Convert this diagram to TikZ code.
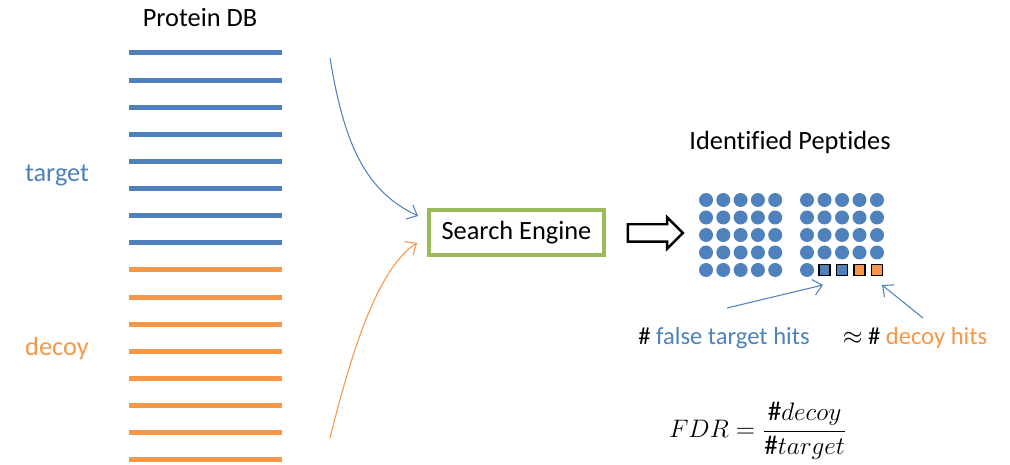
\documentclass[tikz,border=0pt]{standalone}
\usepackage{fontspec}
\setmainfont{Carlito}[Ligatures={NoCommon}]
\usetikzlibrary{shapes.arrows,arrows.meta}
\definecolor{tblue}{HTML}{4F81BD}
\definecolor{dorange}{HTML}{F79646}
\definecolor{egreen}{HTML}{9BBB59}
\begin{document}
\begin{tikzpicture}[
    x=0.02cm, y=-0.02cm,
    font=\fontsize{15}{18}\selectfont,
    dbline/.style={line width=0.1cm},
    dot/.style={circle, fill=tblue, inner sep=0pt, minimum size=0.28cm},
    hit/.style={draw=black, fill=#1, inner sep=0pt, minimum size=0.22cm, line width=0.6pt},
    feed/.style={-{Straight Barb[length=5pt,width=9pt]}, line width=0.6pt},
    hitarrow/.style={-{Straight Barb[length=5pt,width=9pt]}, line width=0.6pt, tblue},
    hitlabel/.style={font=\fontsize{14}{17}\selectfont}
    ]
	\useasboundingbox (0,0) rectangle (1010,465);
	\node (db) at (200,18) {Protein DB};
	\node [text=tblue] (target) at (57,175) {target};
	\node [text=dorange] (decoy) at (57,348) {decoy};
	\foreach \i in {0,...,7}{
		\draw [dbline, tblue] (129,53+27.1*\i) -- (282,53+27.1*\i);
		\draw [dbline, dorange] (129,270+27.1*\i) -- (282,270+27.1*\i);
	}
	\node [draw=egreen, line width=2pt, minimum width=3.5cm, minimum height=0.9cm] (engine) at (516.5,232.5) {Search Engine};
	\coordinate (tout) at (330,58);
	\coordinate (dout) at (330,438);
	\coordinate (tin) at (418,216);
	\coordinate (din) at (417,243);
	\draw [feed, tblue] (tout) .. controls (345,150) and (368,192) .. (tin);
	\draw [feed, dorange] (dout) .. controls (352,350) and (378,268) .. (din);
	\node [single arrow, draw, line width=1.4pt, minimum height=1.1cm, inner sep=0.15cm,
	       single arrow head extend=0.14cm, single arrow tip angle=90] (flow) at (651,233) {};
	\node (ident) at (790,142) {Identified Peptides};
	\foreach \c in {0,...,4}{
		\foreach \r in {0,...,4}{
			\node [dot] (l\c\r) at (706+17.3*\c,200+17.5*\r) {};
		}
		\foreach \r in {0,...,3}{
			\node [dot] (r\c\r) at (807+17.5*\c,200+17.5*\r) {};
		}
	}
	\node [dot] (r04) at (807,270) {};
	\node [hit=tblue] (sq1) at (824.5,270) {};
	\node [hit=tblue] (sq2) at (842,270) {};
	\node [hit=dorange] (sq3) at (859.5,270) {};
	\node [hit=dorange] (sq4) at (877,270) {};
	\node [hitlabel] (falsehits) at (724,338) {\# \textcolor{tblue}{false target hits}};
	\node [hitlabel] (decoyhits) at (915,338) {$\approx$ \# \textcolor{dorange}{decoy hits}};
	\coordinate (fa) at (727,308);
	\coordinate (fb) at (823,285);
	\coordinate (da) at (923,318);
	\coordinate (dc) at (882,285);
	\draw [hitarrow] (fa) -- (fb);
	\draw [hitarrow] (da) -- (dc);
	\node [font=\fontsize{15.5}{19}\selectfont] (fdr) at (758,431) {$\displaystyle FDR=\frac{\#decoy}{\#target}$};
\end{tikzpicture}
\end{document}
